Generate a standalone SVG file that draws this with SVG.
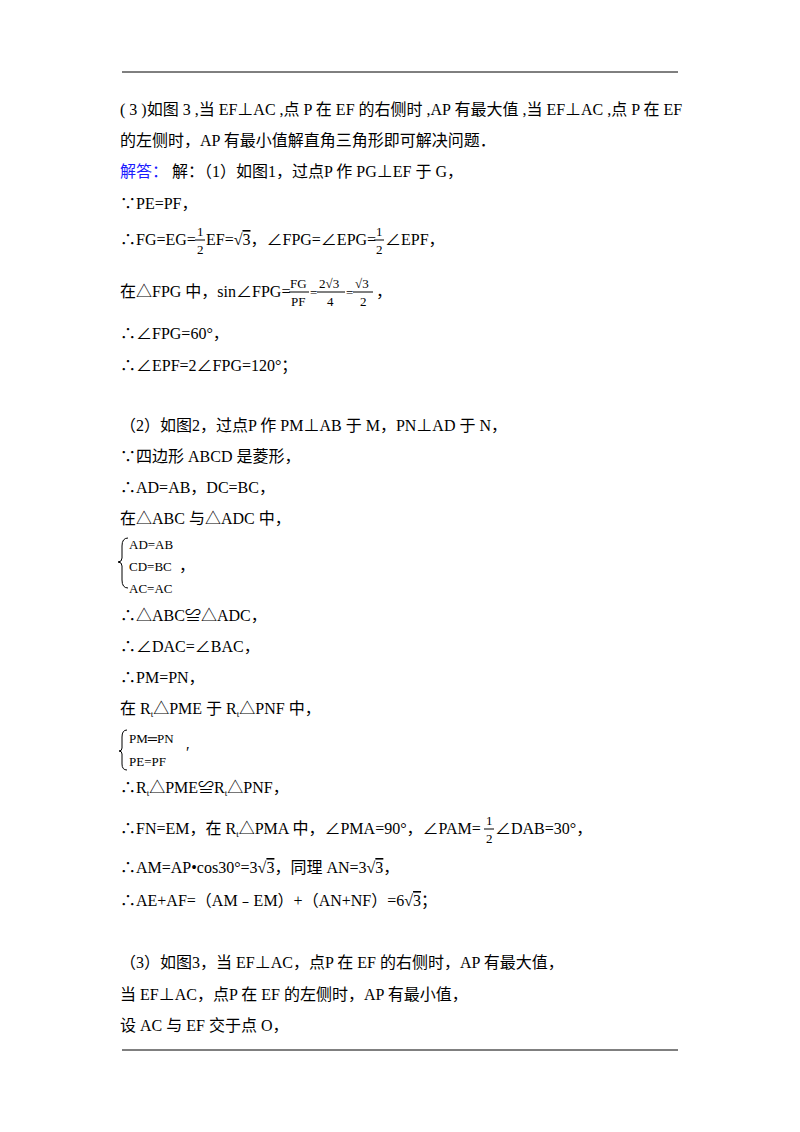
<svg xmlns="http://www.w3.org/2000/svg" width="800" height="1132" viewBox="0 0 800 1132">
<style>
text{font-family:"Liberation Serif","Noto Sans CJK SC",serif;font-size:16px;fill:#000}
.s{font-size:13px}
.b{fill:#1a1aff}
line{stroke:#000;stroke-width:1}
</style>
<rect width="800" height="1132" fill="#fff"/>
<line x1="122" y1="72" x2="678" y2="72" stroke-width="1.5"/>
<line x1="122" y1="1050" x2="678" y2="1050" stroke-width="1.5"/>
<g id="text">
<text x="120" y="115">( 3 )如图 3 ,当 EF⊥AC ,点 P 在 EF 的右侧时 ,AP 有最大值 ,当 EF⊥AC ,点 P 在 EF</text>
<text x="120" y="146">的左侧时，AP 有最小值解直角三角形即可解决问题．</text>
<text x="120" y="177"><tspan class="b">解答：</tspan> 解：（1）如图1，过点P 作 PG⊥EF 于 G，</text>
<text x="120" y="209">∵PE=PF，</text>
<text x="120" y="245">∴FG=EG=</text>
<text x="197" y="236" class="s">1</text><line x1="195" y1="240" x2="205" y2="240"/><text x="197" y="254" class="s">2</text>
<text x="206" y="245">EF=√<tspan text-decoration="overline">3</tspan>，∠FPG=∠EPG=</text>
<text x="376" y="236" class="s">1</text><line x1="374" y1="240" x2="384" y2="240"/><text x="376" y="254" class="s">2</text>
<text x="385" y="245">∠EPF，</text>
<text x="120" y="297">在△FPG 中，sin∠FPG=</text>
<text x="290" y="288" class="s">FG</text><line x1="289" y1="292" x2="309" y2="292"/><text x="291" y="306" class="s">PF</text>
<text x="310" y="297" class="s">=</text>
<text x="319" y="288" class="s">2√3</text><line x1="317" y1="292" x2="345" y2="292"/><text x="327" y="306" class="s">4</text>
<text x="346" y="297" class="s">=</text>
<text x="355" y="288" class="s">√3</text><line x1="353" y1="292" x2="373" y2="292"/><text x="360" y="306" class="s">2</text>
<text x="376" y="297">，</text>
<text x="120" y="339">∴∠FPG=60°，</text>
<text x="120" y="371">∴∠EPF=2∠FPG=120°；</text>
<text x="120" y="431">（2）如图2，过点P 作 PM⊥AB 于 M，PN⊥AD 于 N，</text>
<text x="120" y="462">∵四边形 ABCD 是菱形，</text>
<text x="120" y="493">∴AD=AB，DC=BC，</text>
<text x="120" y="524">在△ABC 与△ADC 中，</text>
<path d="M128,538 Q122,538 122,546 L122,558 Q122,562 118,562 Q122,562 122,566 L122,580 Q122,588 128,588" fill="none" stroke="#000"/>
<text x="129" y="549" class="s">AD=AB</text>
<text x="129" y="571" class="s">CD=BC</text>
<text x="179" y="571">，</text>
<text x="129" y="593" class="s">AC=AC</text>
<text x="120" y="621">∴△ABC≌△ADC，</text>
<text x="120" y="652">∴∠DAC=∠BAC，</text>
<text x="120" y="683">∴PM=PN，</text>
<text x="120" y="714">在 R<tspan font-size="9" dy="3">t</tspan><tspan dy="-3">△PME 于 R</tspan><tspan font-size="9" dy="3">t</tspan><tspan dy="-3">△PNF 中，</tspan></text>
<path d="M127,730 Q122,730 122,737 L122,748 Q122,751 119,751 Q122,751 122,754 L122,764 Q122,770 127,770" fill="none" stroke="#000"/>
<text x="129" y="743" class="s">PM═PN</text>
<text x="129" y="766" class="s">PE=PF</text>
<text x="186" y="758">′</text>
<text x="120" y="793">∴R<tspan font-size="9" dy="3">t</tspan><tspan dy="-3">△PME≌R</tspan><tspan font-size="9" dy="3">t</tspan><tspan dy="-3">△PNF，</tspan></text>
<text x="120" y="834">∴FN=EM，在 R<tspan font-size="9" dy="3">t</tspan><tspan dy="-3">△PMA 中，∠PMA=90°，∠PAM=</tspan></text>
<text x="486" y="825" class="s">1</text><line x1="484" y1="829" x2="494" y2="829"/><text x="486" y="843" class="s">2</text>
<text x="495" y="834">∠DAB=30°，</text>
<text x="120" y="873">∴AM=AP•cos30°=3√<tspan text-decoration="overline">3</tspan>，同理 AN=3√<tspan text-decoration="overline">3</tspan>，</text>
<text x="120" y="906">∴AE+AF=（AM﹣EM）+（AN+NF）=6√<tspan text-decoration="overline">3</tspan>；</text>
<text x="120" y="968">（3）如图3，当 EF⊥AC，点P 在 EF 的右侧时，AP 有最大值，</text>
<text x="120" y="1000">当 EF⊥AC，点P 在 EF 的左侧时，AP 有最小值，</text>
<text x="120" y="1031">设 AC 与 EF 交于点 O，</text>
</g>
</svg>
